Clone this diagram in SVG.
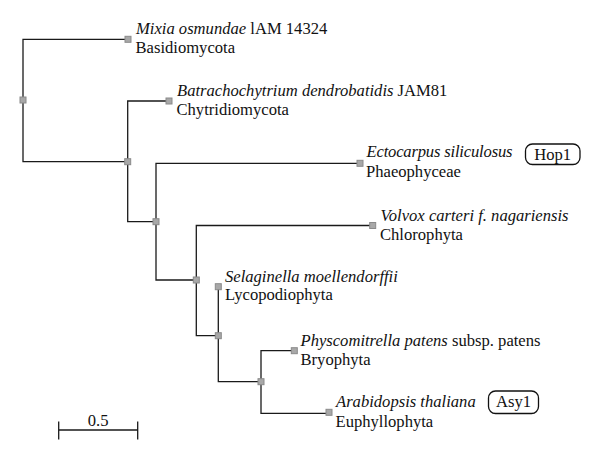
<svg xmlns="http://www.w3.org/2000/svg" width="600" height="460" viewBox="0 0 600 460">
<style>
.br{fill:none;stroke:#1a1a1a;stroke-width:1.3}
.sq{fill:#a8a8a8;stroke:#8a8a8a;stroke-width:1}
text{font-family:"Liberation Serif","Times New Roman",serif;font-size:16.6px;fill:#111}
.it{font-style:italic}
.box{fill:#fff;stroke:#111;stroke-width:1.3}
</style>
<rect width="600" height="460" fill="#fff"/>
<g id="connectors" class="br">
<path d="M128,39.3 H23 V161.7 H127.7"/>
<path d="M169,101 H127.7 V221.7 H156"/>
<path d="M360,163.3 H156 V280 H196.3"/>
<path d="M372.7,225.5 H196.3 V335.7 H218.3"/>
<path d="M218.3,286.7 V381.7 H261"/>
<path d="M294.3,350.7 H261 V413.3 H329"/>
<path d="M58.7,430 H137.7 M58.7,421.5 V439.5 M137.7,421.5 V439.5"/>
</g>
<g id="internal-nodes">
<rect class="sq" x="20" y="97" width="6" height="6"/>
<rect class="sq" x="124.7" y="158.7" width="6" height="6"/>
<rect class="sq" x="153" y="218.7" width="6" height="6"/>
<rect class="sq" x="193.3" y="277" width="6" height="6"/>
<rect class="sq" x="215.3" y="332.7" width="6" height="6"/>
<rect class="sq" x="258" y="378.7" width="6" height="6"/>
</g>
<g id="mixia">
<rect class="sq" x="125" y="36.3" width="6" height="6"/>
<text x="136" y="34.3"><tspan class="it">Mixia osmundae</tspan> lAM 14324</text>
<text x="135.5" y="52.5">Basidiomycota</text>
</g>
<g id="batrachochytrium">
<rect class="sq" x="166" y="98" width="6" height="6"/>
<text x="177" y="96"><tspan class="it">Batrachochytrium dendrobatidis</tspan> JAM81</text>
<text x="176.5" y="114.5">Chytridiomycota</text>
</g>
<g id="ectocarpus">
<rect class="sq" x="357" y="160.3" width="6" height="6"/>
<text class="it" x="366.5" y="157" textLength="146">Ectocarpus siliculosus</text>
<text x="366" y="177">Phaeophyceae</text>
</g>
<g id="hop1">
<rect class="box" x="525.5" y="144" width="54.5" height="20.5" rx="7"/>
<text x="552.7" y="160" text-anchor="middle">Hop1</text>
</g>
<g id="volvox">
<rect class="sq" x="369.7" y="222.5" width="6" height="6"/>
<text class="it" x="380.5" y="220.5">Volvox carteri f. nagariensis</text>
<text x="380" y="239.5">Chlorophyta</text>
</g>
<g id="selaginella">
<rect class="sq" x="215.3" y="283.7" width="6" height="6"/>
<text class="it" x="225" y="281.7">Selaginella moellendorffii</text>
<text x="225" y="299.7">Lycopodiophyta</text>
</g>
<g id="physcomitrella">
<rect class="sq" x="291.3" y="347.7" width="6" height="6"/>
<text x="300.5" y="345.5"><tspan class="it">Physcomitrella patens</tspan> subsp. patens</text>
<text x="300.5" y="364.5">Bryophyta</text>
</g>
<g id="arabidopsis">
<rect class="sq" x="326" y="409.3" width="6" height="6"/>
<text class="it" x="336" y="406.5">Arabidopsis thaliana</text>
<text x="335.5" y="426.5">Euphyllophyta</text>
</g>
<g id="asy1">
<rect class="box" x="488.5" y="391" width="50" height="22.5" rx="7"/>
<text x="513.5" y="407" text-anchor="middle">Asy1</text>
</g>
<g id="scale">
<text x="98.2" y="425.5" text-anchor="middle">0.5</text>
</g>
</svg>
